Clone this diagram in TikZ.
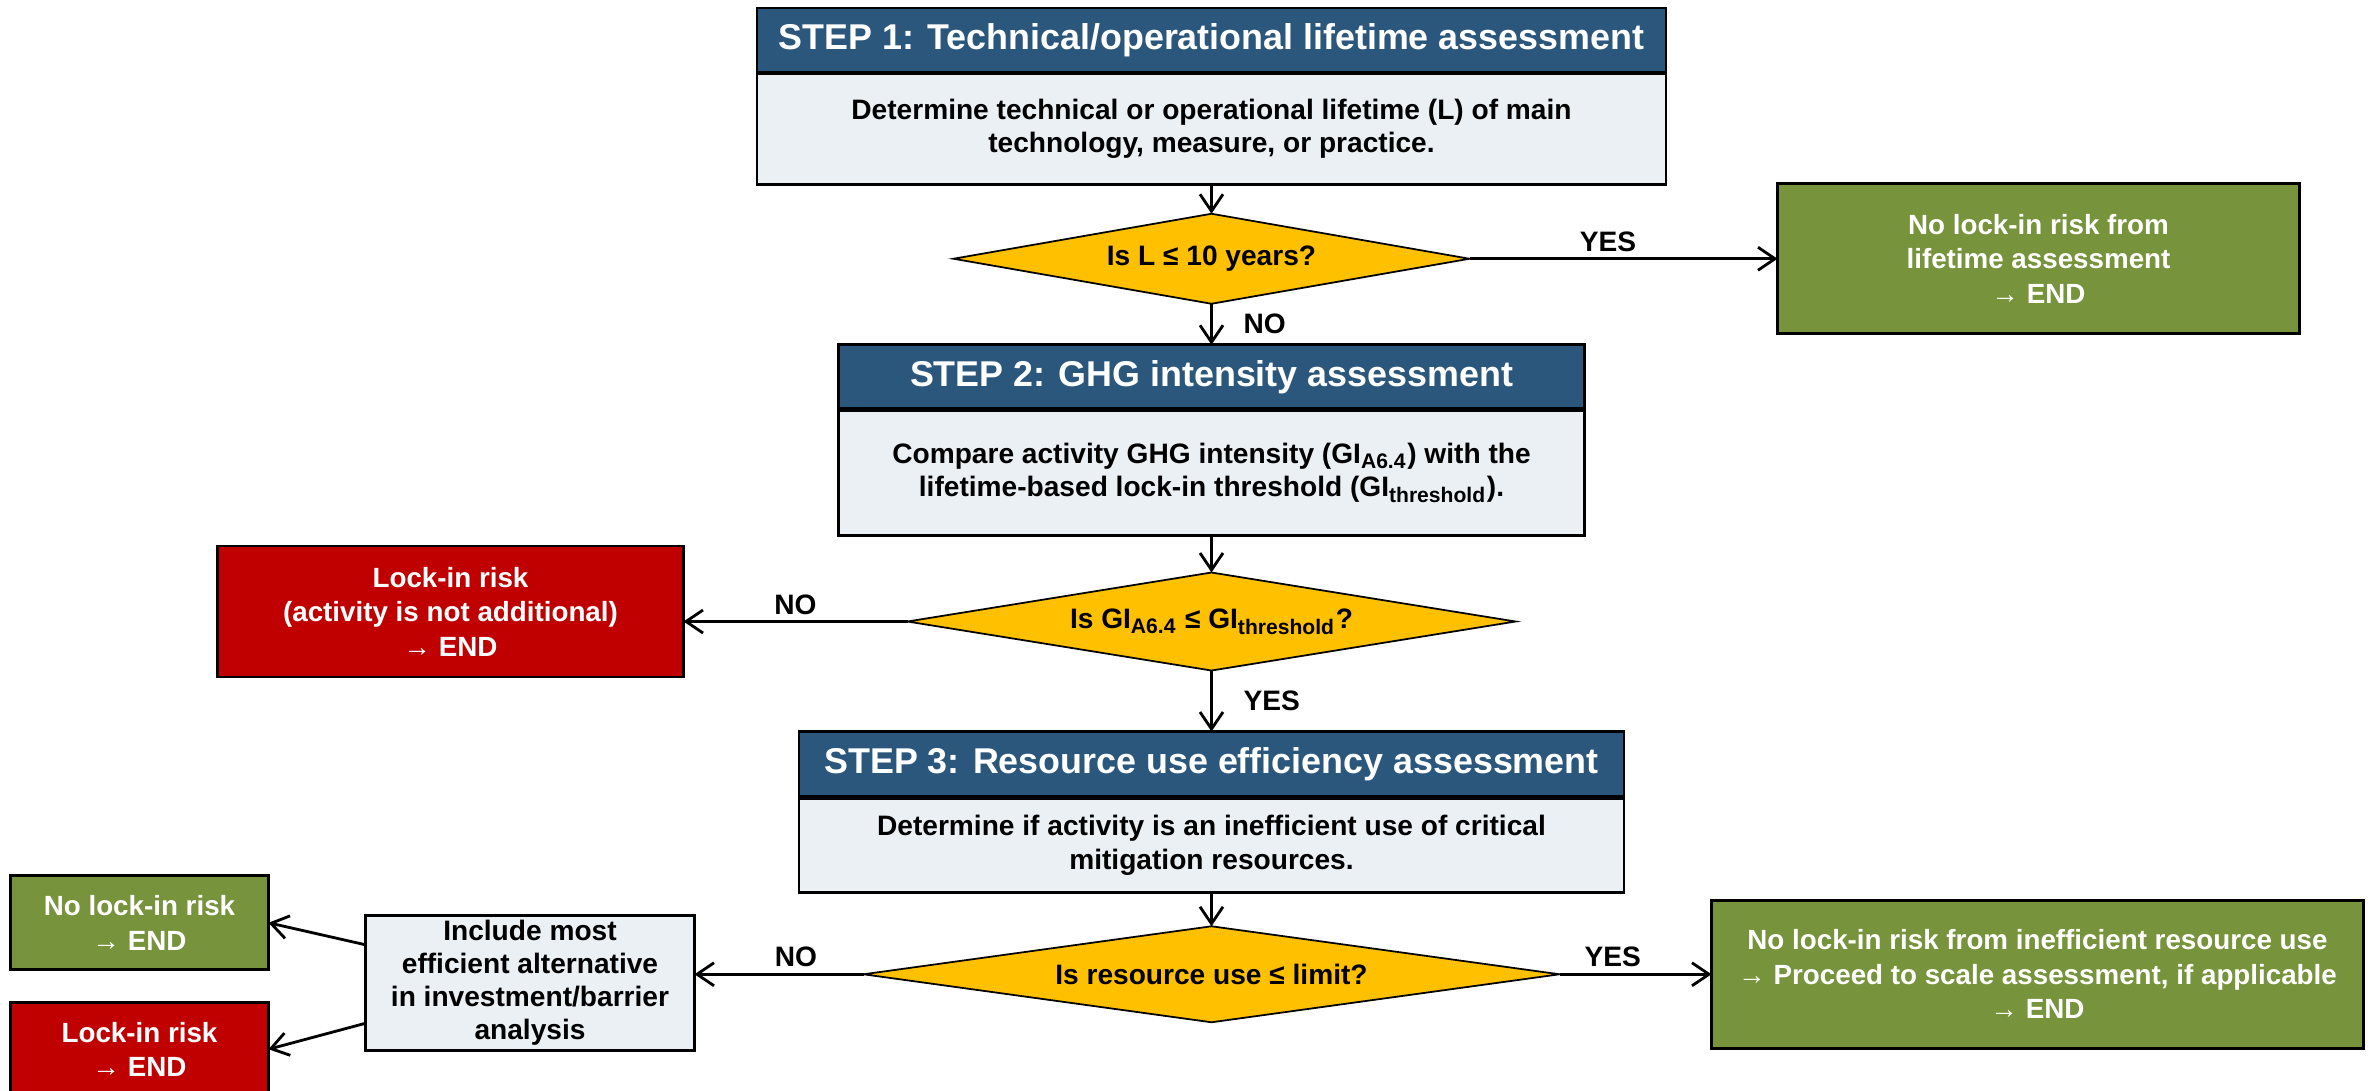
\documentclass[tikz,border=0pt]{standalone}
\usepackage{fontspec}
\setmainfont{Liberation Sans}
\usepackage{xcolor}
\definecolor{colorHeader}{RGB}{44,87,125}
\definecolor{colorBody}{RGB}{235,240,245}
\definecolor{colorDecision}{RGB}{255,192,0}
\definecolor{colorPass}{RGB}{119,147,60}
\definecolor{colorFail}{RGB}{192,0,0}
\usepackage{tikz}
\usetikzlibrary{arrows.meta, positioning, shapes.geometric}
\tikzset{
  header/.style={draw, line width=0.8pt, fill=colorHeader, text=white, inner sep=0pt,
    minimum width=#1, minimum height=0.64cm, font=\fontsize{10.2}{12}\selectfont\bfseries},
  body/.style={draw, line width=0.8pt, fill=colorBody, align=center, inner sep=0pt,
    minimum width=#1, font=\fontsize{8}{9.4}\selectfont\bfseries},
  decision/.style={diamond, shape aspect=6, draw, line width=0.5pt, fill=colorDecision, inner sep=0pt,
    minimum width=#1, font=\fontsize{8}{9.4}\selectfont\bfseries},
  pass/.style={draw, line width=0.8pt, fill=colorPass, text=white, align=center, inner sep=0pt,
    minimum width=#1, font=\fontsize{7.9}{9.8}\selectfont\bfseries},
  fail/.style={pass=#1, fill=colorFail},
  answer/.style={inner sep=2pt, font=\fontsize{8}{9.4}\selectfont\bfseries}
}

\begin{document}
\begin{tikzpicture}[>={Straight Barb[length=1.7mm, width=2.3mm]}, line width=0.8pt, every node/.style={outer sep=0pt}]
\useasboundingbox (0,0) rectangle (23.72,-10.91);
% step 1
\node[header=9.09cm] (hd1) at (12.115,-0.40) {STEP 1: Technical/operational lifetime assessment};
\node[body=9.09cm, minimum height=1.11cm, below=0.5pt of hd1] (bd1) {Determine technical or operational lifetime (L) of main\\technology, measure, or practice.};
\node[decision=5.16cm, minimum height=0.90cm, below=0.29cm of bd1] (dec1) {Is L ≤ 10 years?};
\node[pass=5.22cm, minimum height=1.50cm, right=3.08cm of dec1] (ok1) {No lock-in risk from\\lifetime assessment\\→ END};
% step 2
\node[header=7.46cm, below=0.41cm of dec1] (hd2) {STEP 2: GHG intensity assessment};
\node[body=7.46cm, minimum height=1.25cm, below=0.5pt of hd2] (bd2) {Compare activity GHG intensity (GI\textsubscript{A6.4}) with the\\lifetime-based lock-in threshold (GI\textsubscript{threshold}).};
\node[decision=6.08cm, minimum height=0.98cm, below=0.37cm of bd2] (dec2) {Is GI\textsubscript{A6.4} ≤ GI\textsubscript{threshold}?};
\node[fail=4.66cm, minimum height=1.31cm, left=2.24cm of dec2, yshift=0.1cm] (risk1) {Lock-in risk\\(activity is not additional)\\→ END};
% step 3
\node[header=8.25cm, minimum height=0.65cm, below=0.61cm of dec2] (hd3) {STEP 3: Resource use efficiency assessment};
\node[body=8.25cm, minimum height=0.94cm, below=0.5pt of hd3] (bd3) {Determine if activity is an inefficient use of critical\\mitigation resources.};
\node[decision=6.96cm, minimum height=0.96cm, below=0.34cm of bd3] (dec3) {Is resource use ≤ limit?};
\node[pass=6.52cm, minimum height=1.48cm, right=1.52cm of dec3] (ok3) {No lock-in risk from inefficient resource use\\→ Proceed to scale assessment, if applicable\\→ END};
\node[body=3.29cm, minimum height=1.35cm, left=1.69cm of dec3, yshift=-0.085cm] (alt) {Include most\\efficient alternative\\in investment/barrier\\analysis};
\node[pass=2.58cm, minimum height=0.94cm, left=0.97cm of alt, yshift=0.60cm] (ok2) {No lock-in risk\\→ END};
\node[fail=2.58cm, minimum height=0.94cm, left=0.97cm of alt, yshift=-0.665cm] (risk2) {Lock-in risk\\→ END};

\draw[->] (bd1) -- (dec1);
\draw[->] (dec1) -- node[answer, above, pos=0.45]{YES} (ok1);
\draw[->] (dec1) -- node[answer, right=0.25cm]{NO} (hd2);
\draw[->] (bd2) -- (dec2);
\draw[->] (dec2.west) -- node[answer, above]{NO} (dec2.west -| risk1.east);
\draw[->] (dec2) -- node[answer, right=0.25cm]{YES} (hd3);
\draw[->] (bd3) -- (dec3);
\draw[->] (dec3) -- node[answer, above, pos=0.35]{YES} (ok3);
\draw[->] (dec3.west) -- node[answer, above, pos=0.4]{NO} (dec3.west -| alt.east);
\draw[->] ([yshift=0.38cm]alt.west) -- (ok2.east);
\draw[->] ([yshift=-0.405cm]alt.west) -- (risk2.east);
\end{tikzpicture}
\end{document}
